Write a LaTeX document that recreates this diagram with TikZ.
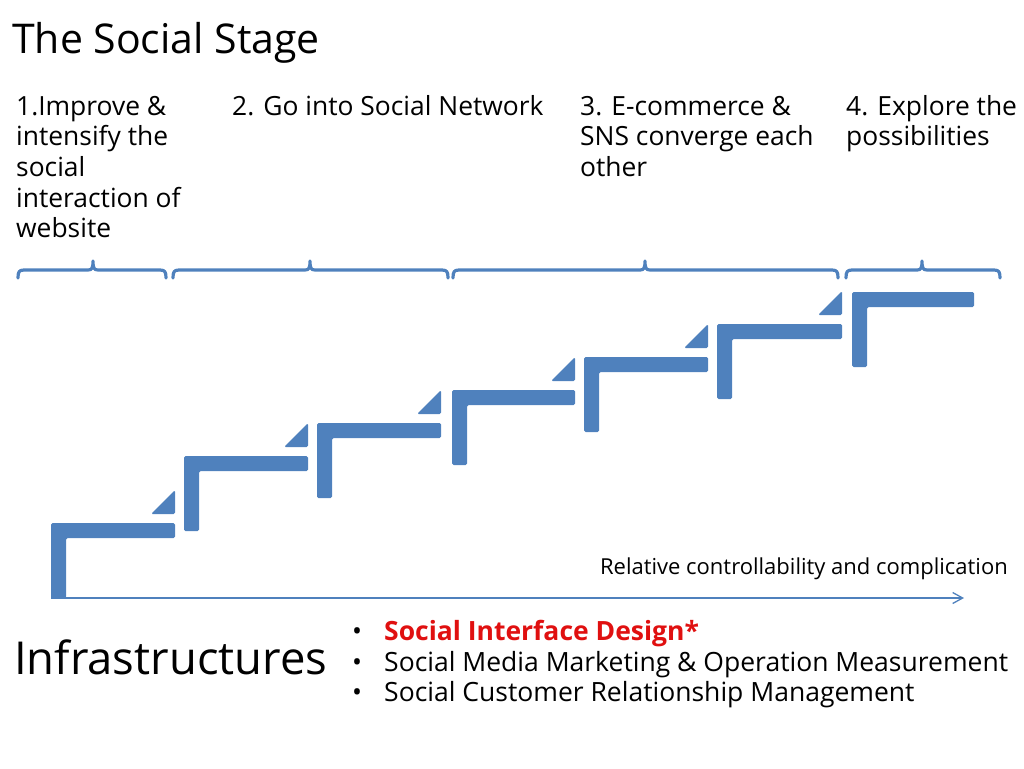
\documentclass[tikz,border=0pt]{standalone}
\usepackage{fontspec}
\setmainfont{Open Sans}
\usetikzlibrary{arrows.meta}
\definecolor{stepblue}{RGB}{79,129,189}
\definecolor{hired}{RGB}{224,16,16}
\begin{document}
\begin{tikzpicture}[x=1pt,y=-1pt,
  txt/.style={anchor=base west, inner sep=0pt, align=left},
  hdr/.style={txt, font=\fontsize{26.4}{30.7}\selectfont},
  stepshape/.style={fill=stepblue, rounded corners=1.5pt},
  bracebar/.style={draw=stepblue, line width=3.2pt, line cap=round, line join=round},
  axis/.style={draw=stepblue, line width=1.3pt, -{Straight Barb[length=10pt,width=11pt]}},
  bul/.style={txt, font=\fontsize{26.5}{30.7}\selectfont},
]
\useasboundingbox (0,0) rectangle (1024,768);
% title and stage headers (base anchor = baseline of the last line)
\node[txt, font=\fontsize{41}{50}\selectfont] (title) at (12,53) {The Social Stage};
\node[hdr] (h1) at (16,237.8) {1.Improve \&\\intensify the\\social\\interaction of\\website};
\node[hdr] (h2) at (232,115) {2. Go into Social Network};
\node[hdr] (h3) at (580,176.4) {3. E-commerce \&\\SNS converge each\\other};
\node[hdr] (h4) at (846,145.7) {4. Explore the\\possibilities};
% braces
\foreach \a/\m/\b in {18/93/166, 173/310/448, 453/645/838, 846/922/1000}{
  \draw[bracebar] (\a,278) .. controls (\a,272) and (\a+1,270) .. (\a+6,270)
    -- (\m-5,270) .. controls (\m-1,270) and (\m,268) .. (\m,261)
    .. controls (\m,268) and (\m+1,270) .. (\m+5,270)
    -- (\b-6,270) .. controls (\b-1,270) and (\b,272) .. (\b,278);
}
% stairs
\foreach \L/\T/\R in {51/523/175, 184/456/308, 317/423/441, 452/390/575, 584/357/708, 717/324/842, 852/292/974}{
  \fill[stepshape] (\L,\T) -- (\R,\T) -- (\R,\T+15) -- (\L+15,\T+15) -- (\L+15,\T+75) -- (\L,\T+75) -- cycle;
}
\foreach \T/\R in {523/175, 456/308, 423/441, 390/575, 357/708, 324/842}{
  \fill[stepshape] (\R-24,\T-9) -- (\R,\T-33) -- (\R,\T-9) -- cycle;
}
% axis
\coordinate (ax0) at (51,598);
\coordinate (ax1) at (964,598);
\draw[axis] (ax0) -- (ax1);
\node[anchor=base east, inner sep=0pt, font=\fontsize{22}{26}\selectfont] (rel) at (1008,574) {Relative controllability and complication};
% infrastructures
\node[txt, font=\fontsize{45.4}{56}\selectfont] (infra) at (14,674) {Infrastructures};
\node[bul] (b1d) at (352,640) {•};
\node[bul] (b2d) at (352,671) {•};
\node[bul] (b3d) at (352,701) {•};
\node[bul, text=hired, font=\fontsize{26.5}{30.7}\selectfont\bfseries] (b1) at (384,640) {Social Interface Design*};
\node[bul] (b2) at (384,671) {Social Media Marketing \& Operation Measurement};
\node[bul] (b3) at (384,701) {Social Customer Relationship Management};
\end{tikzpicture}
\end{document}
